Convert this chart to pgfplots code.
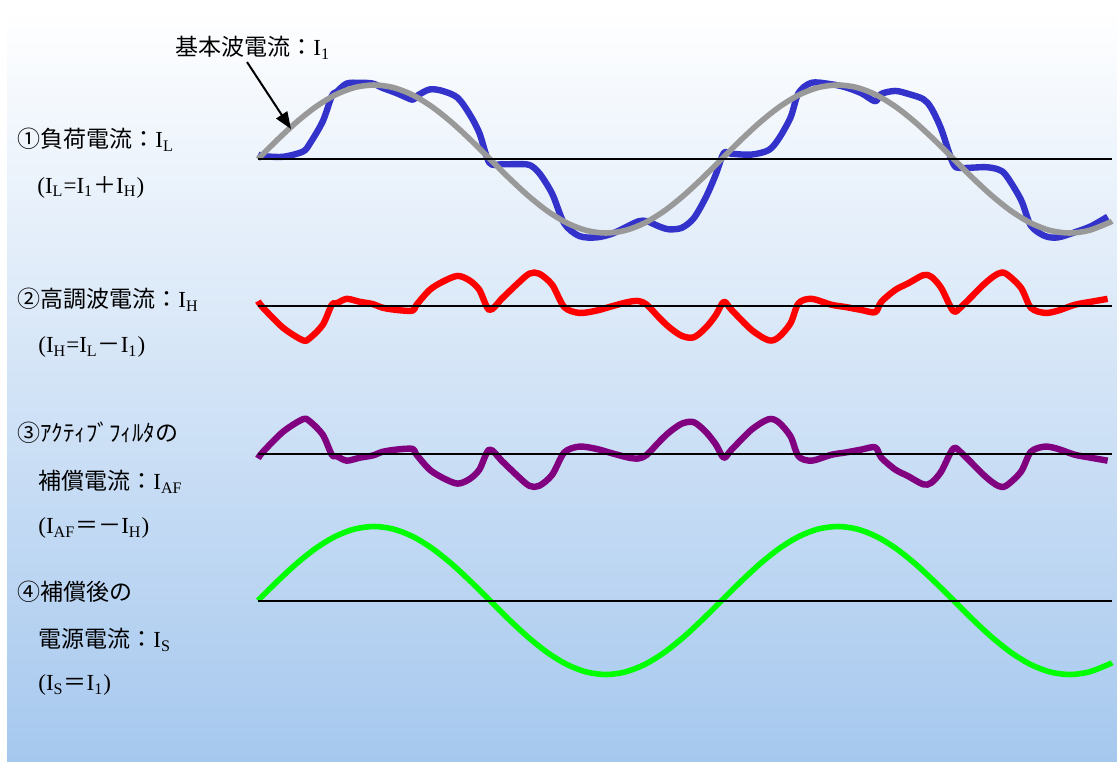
\documentclass[border=0pt]{standalone}
\usepackage{fontspec}
\setmainfont{Liberation Serif}
\newfontfamily\jp{Noto Sans CJK JP}
\usepackage{pgfplots}
\pgfplotsset{compat=1.18}
\usetikzlibrary{arrows.meta}

\definecolor{bgbot}{RGB}{166,200,238}
\definecolor{cblue}{RGB}{51,51,204}
\definecolor{cgray}{RGB}{153,153,153}
\definecolor{cred}{RGB}{255,0,0}
\definecolor{cpurple}{RGB}{128,0,128}
\definecolor{cgreen}{RGB}{0,255,0}

\newcommand{\J}[1]{{\fontsize{11.5}{13}\selectfont\jp #1}}
\newcommand{\s}[1]{\textsubscript{#1}}

\pgfplotsset{rowax/.style={scale only axis, width=427pt, height=88.8pt,
  xmin=0, xmax=663, ymin=-1.2, ymax=1.2, hide axis, clip=false, anchor=west}}

\begin{document}
\begin{tikzpicture}
\begin{scope}[x=0.5pt,y=-0.5pt]
\fill[white] (0,0) rectangle (1117,761);
\shade[top color=white, bottom color=bgbot] (7,8) rectangle (1117,761);
\coordinate (r1) at (258,159);
\coordinate (r2) at (258,305.5);
\coordinate (r3) at (258,454);
\coordinate (r4) at (258,600.5);
\end{scope}

% Row 1: load current and fundamental
\begin{axis}[rowax, at={(r1)}]
\addplot[cblue, line width=3.2pt, smooth, line join=round] coordinates {
(0,0.06) (3.9,0.04) (19.4,0.03) (34.8,0.10) (40.3,0.21) (50.3,0.51) (57.3,0.85) (61.2,0.91) (68.9,1.02) (79.0,1.03) (89.0,1.02) (96.8,0.96) (107.6,0.89) (120.0,0.80) (123.1,0.85) (133.2,0.94) (143.2,0.92) (154.8,0.83) (164.1,0.61) (171.9,0.35) (179.6,-0.05) (189.7,-0.07) (200.5,-0.07) (210.6,-0.08) (218.3,-0.19) (228.4,-0.47) (237.7,-0.87) (249.3,-1.04) (262.5,-1.06) (274.8,-1.01) (288.0,-0.90) (295.7,-0.84) (301.9,-0.84) (311.2,-0.91) (319.0,-0.95) (329.0,-0.93) (338.3,-0.80) (347.6,-0.52) (355.4,-0.21) (361.6,0.08) (367.7,0.07) (383.2,0.06) (396.4,0.12) (404.1,0.27) (413.4,0.56) (419.6,0.89) (429.7,1.03) (445.2,1.01) (456.0,0.97) (468.4,0.89) (479.2,0.78) (483.9,0.88) (494.7,0.92) (504.8,0.88) (516.4,0.81) (522.6,0.69) (530.3,0.41) (539.6,-0.06) (545.8,-0.12) (564.4,-0.11) (574.5,-0.14) (580.7,-0.22) (592.3,-0.55) (600.0,-0.90) (610.8,-1.04) (620.9,-1.06) (634.1,-0.99) (646.5,-0.91) (659.6,-0.78)};
\addplot[cgray, line width=2.8pt, smooth, line join=round] coordinates {
(0,0) (15,0.259) (30,0.5) (45,0.707) (60,0.866) (75,0.966) (90,1) (105,0.966) (120,0.866) (135,0.707) (150,0.5) (165,0.259) (180,0) (195,-0.259) (210,-0.5) (225,-0.707) (240,-0.866) (255,-0.966) (270,-1) (285,-0.966) (300,-0.866) (315,-0.707) (330,-0.5) (345,-0.259) (360,0) (375,0.259) (390,0.5) (405,0.707) (420,0.866) (435,0.966) (450,1) (465,0.966) (480,0.866) (495,0.707) (510,0.5) (525,0.259) (540,0) (555,-0.259) (570,-0.5) (585,-0.707) (600,-0.866) (615,-0.966) (630,-1) (645,-0.966) (660,-0.866) (663,-0.839)};
\addplot[black, line width=1pt] coordinates {(0,0) (663,0)};
\end{axis}

% Row 2: harmonic current
\begin{axis}[rowax, at={(r2)}]
\addplot[cred, line width=3.2pt, smooth, line join=round] coordinates {
(0,0.06) (3.9,-0.03) (19.4,-0.30) (34.8,-0.47) (40.3,-0.44) (50.3,-0.26) (57.3,0.01) (61.2,0.03) (68.9,0.09) (79.0,0.05) (89.0,0.02) (96.8,-0.03) (107.6,-0.06) (120.0,-0.07) (123.1,0.01) (133.2,0.21) (143.2,0.32) (154.8,0.40) (164.1,0.34) (171.9,0.21) (179.6,-0.06) (189.7,0.10) (200.5,0.28) (210.6,0.43) (218.3,0.43) (228.4,0.28) (237.7,-0.02) (249.3,-0.10) (262.5,-0.07) (274.8,-0.01) (288.0,0.05) (295.7,0.06) (301.9,0.01) (311.2,-0.16) (319.0,-0.29) (329.0,-0.41) (338.3,-0.43) (347.6,-0.30) (355.4,-0.13) (361.6,0.05) (367.7,-0.06) (383.2,-0.33) (396.4,-0.47) (404.1,-0.43) (413.4,-0.24) (419.6,0.03) (429.7,0.09) (445.2,0.01) (456.0,-0.02) (468.4,-0.06) (479.2,-0.09) (483.9,0.05) (494.7,0.21) (504.8,0.30) (516.4,0.41) (522.6,0.39) (530.3,0.24) (539.6,-0.07) (545.8,-0.02) (564.4,0.30) (574.5,0.43) (580.7,0.43) (592.3,0.24) (600.0,-0.03) (610.8,-0.10) (620.9,-0.07) (634.1,0.01) (646.5,0.05) (659.6,0.09)};
\addplot[black, line width=1pt] coordinates {(0,0) (663,0)};
\end{axis}

% Row 3: active filter compensation current
\begin{axis}[rowax, at={(r3)}]
\addplot[cpurple, line width=3.2pt, smooth, line join=round] coordinates {
(0,-0.06) (3.9,0.03) (19.4,0.30) (34.8,0.47) (40.3,0.44) (50.3,0.26) (57.3,-0.01) (61.2,-0.03) (68.9,-0.09) (79.0,-0.05) (89.0,-0.02) (96.8,0.03) (107.6,0.06) (120.0,0.07) (123.1,-0.01) (133.2,-0.21) (143.2,-0.32) (154.8,-0.40) (164.1,-0.34) (171.9,-0.21) (179.6,0.06) (189.7,-0.10) (200.5,-0.28) (210.6,-0.43) (218.3,-0.43) (228.4,-0.28) (237.7,0.02) (249.3,0.10) (262.5,0.07) (274.8,0.01) (288.0,-0.05) (295.7,-0.06) (301.9,-0.01) (311.2,0.16) (319.0,0.29) (329.0,0.41) (338.3,0.43) (347.6,0.30) (355.4,0.13) (361.6,-0.05) (367.7,0.06) (383.2,0.33) (396.4,0.47) (404.1,0.43) (413.4,0.24) (419.6,-0.03) (429.7,-0.09) (445.2,-0.01) (456.0,0.02) (468.4,0.06) (479.2,0.09) (483.9,-0.05) (494.7,-0.21) (504.8,-0.30) (516.4,-0.41) (522.6,-0.39) (530.3,-0.24) (539.6,0.07) (545.8,0.02) (564.4,-0.30) (574.5,-0.43) (580.7,-0.43) (592.3,-0.24) (600.0,0.03) (610.8,0.10) (620.9,0.07) (634.1,-0.01) (646.5,-0.05) (659.6,-0.09)};
\addplot[black, line width=1pt] coordinates {(0,0) (663,0)};
\end{axis}

% Row 4: source current after compensation
\begin{axis}[rowax, at={(r4)}]
\addplot[cgreen, line width=2.8pt, smooth, line join=round] coordinates {
(0,0) (15,0.259) (30,0.5) (45,0.707) (60,0.866) (75,0.966) (90,1) (105,0.966) (120,0.866) (135,0.707) (150,0.5) (165,0.259) (180,0) (195,-0.259) (210,-0.5) (225,-0.707) (240,-0.866) (255,-0.966) (270,-1) (285,-0.966) (300,-0.866) (315,-0.707) (330,-0.5) (345,-0.259) (360,0) (375,0.259) (390,0.5) (405,0.707) (420,0.866) (435,0.966) (450,1) (465,0.966) (480,0.866) (495,0.707) (510,0.5) (525,0.259) (540,0) (555,-0.259) (570,-0.5) (585,-0.707) (600,-0.866) (615,-0.966) (630,-1) (645,-0.966) (660,-0.866) (663,-0.839)};
\addplot[black, line width=1pt] coordinates {(0,0) (663,0)};
\end{axis}

\begin{scope}[x=0.5pt,y=-0.5pt, every node/.style={anchor=west, inner sep=0pt, font=\fontsize{11.5}{13}\selectfont}]
\node at (175,48) {\J{基本波電流：}I\s{1}};
\draw[line width=1pt, -{Triangle[length=8.5pt,width=6.5pt]}] (247,62) -- (291,129);
\node at (17,140) {\J{①負荷電流：}I\s{L}};
\node at (37,187) {(I\s{L}=I\s{1}\J{＋}I\s{H})};
\node at (17,300) {\J{②高調波電流：}I\s{H}};
\node at (38,347) {(I\s{H}=I\s{L}\J{－}I\s{1})};
\node at (17,433) {\J{③ｱｸﾃｨﾌﾞﾌｨﾙﾀの}};
\node at (38,482) {\J{補償電流：}I\s{AF}};
\node at (38,528) {(I\s{AF}\J{＝－}I\s{H})};
\node at (17,592) {\J{④補償後の}};
\node at (38,640) {\J{電源電流：}I\s{S}};
\node at (38,685) {(I\s{S}\J{＝}I\s{1})};
\end{scope}
\end{tikzpicture}
\end{document}
